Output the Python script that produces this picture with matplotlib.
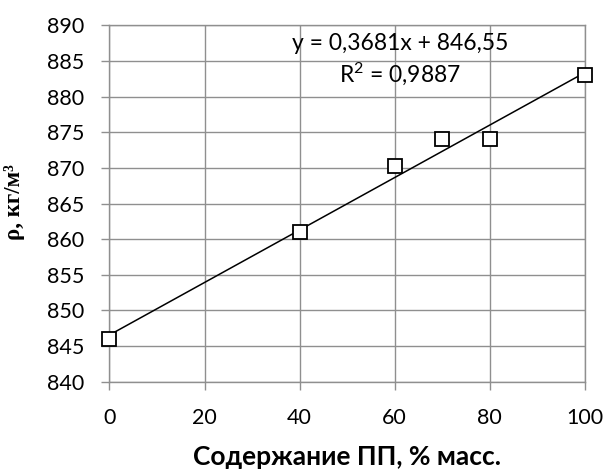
import matplotlib

matplotlib.use("Agg")
import matplotlib.pyplot as plt
import numpy as np

plt.rcParams["mathtext.fontset"] = "custom"
plt.rcParams["mathtext.rm"] = "Lato"
plt.rcParams["mathtext.it"] = "Lato"

# data
pp_content = [0, 40, 60, 70, 80, 100]
density = [846.0, 861.0, 870.2, 874.0, 874.0, 883.0]
x_ticks = [0, 20, 40, 60, 80, 100]
y_ticks = [840, 845, 850, 855, 860, 865, 870, 875, 880, 885, 890]
eq_text = "y = 0,3681x + 846,55"
r2_text = r"R$^\mathrm{2}$ = 0,9887"

grid_col = "#8f8f8f"

fig = plt.figure(figsize=(6.08, 4.70), dpi=100)
ax = fig.add_axes([0.180, 0.188, 0.782, 0.758])

# linear trendline through the points
k, b = np.polyfit(pp_content, density, 1)
xs = np.array([0, 100])
ax.plot(xs, k * xs + b, color="black", lw=1.1, zorder=3)

ax.plot(pp_content, density, ls="none", marker="s", ms=10, mfc="white",
        mec="black", mew=1.3, zorder=4, clip_on=False)

ax.set_xlim(0, 100)
ax.set_ylim(840, 890)
ax.set_xticks(x_ticks)
ax.set_yticks(y_ticks)
ax.grid(True, color=grid_col, lw=1.0)
ax.set_axisbelow(True)
for side in ax.spines.values():
    side.set_color(grid_col)
    side.set_linewidth(1.0)
ax.tick_params(length=6, width=1.0, color=grid_col, labelsize=15.5)
ax.tick_params(axis="y", pad=12)
ax.tick_params(axis="x", pad=13)
for lab in ax.get_xticklabels() + ax.get_yticklabels():
    lab.set_family("Lato")

ax.text(61.1, 887.5, eq_text, ha="center", va="center", fontsize=16.5, family="Lato")
ax.text(61.1, 883.2, r2_text, ha="center", va="center", fontsize=16.5, family="Lato")

fig.text(0.571, 0.028, "Содержание ПП, % масс.", ha="center", va="center",
         fontsize=19, fontweight="bold", family="Lato")
fig.text(0.024, 0.57, "ρ, кг/м³", ha="center", va="center", rotation=90,
         fontsize=16.5, fontweight="bold", family="Liberation Serif")

fig.savefig("out.png", dpi=100)
